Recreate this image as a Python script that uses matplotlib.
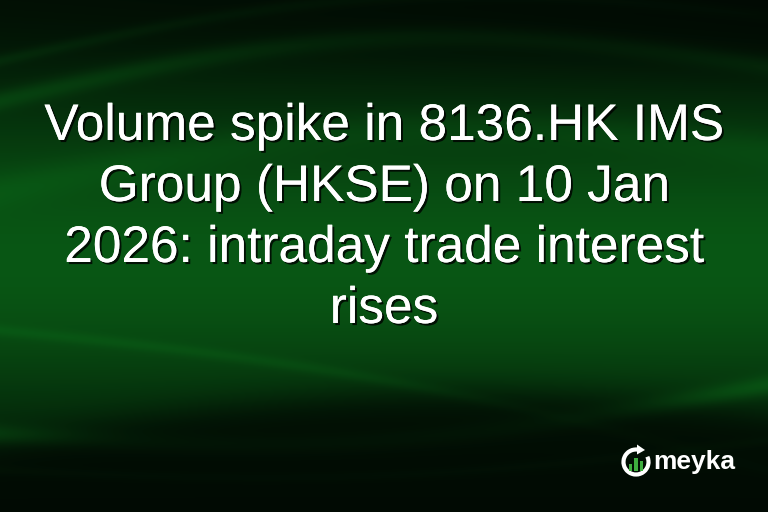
import numpy as np
import matplotlib
matplotlib.use('Agg')
import matplotlib.pyplot as plt
from matplotlib.patches import Arc, Rectangle, Polygon
import matplotlib.patheffects as pe

# ---- content ----
TITLE_LINES = [
    "Volume spike in 8136.HK IMS",
    "Group (HKSE) on 10 Jan",
    "2026: intraday trade interest",
    "rises",
]
LINE_BASELINES = [140, 201, 262, 323]   # px from top
BRAND = "meyka"
LOGO_BARS = [7, 13, 10]                 # bar heights in the logo icon

# ---- background light streaks: (y at left, y at right, bow, width, strength) ----
WAVES = [
    (435, 385, 30, 10, 0.35),
    (470, 440, 20, 5, 0.2),
    (330, 470, -20, 6, 0.15),
    (100, 65, -45, 10, 0.3),
    (60, 15, -40, 6, 0.2),
    (190, 150, -40, 18, 0.15),
]

W, H = 768, 512

# base gradient
yy, xx = np.mgrid[0:H, 0:W].astype(float)
t = xx / W
v = np.exp(-((yy - 260) / 170) ** 2)
lum = 0.08 + 0.92 * v
for y0, y1, bow, wid, s in WAVES:
    yc = y0 + (y1 - y0) * t + bow * np.sin(np.pi * t)
    lum += s * np.exp(-((yy - yc) / wid) ** 2)

# dark lower swell
yb = 445 - 170 * t + 140 * t ** 2
lum *= 1 - 0.8 / (1 + np.exp(-(yy - yb) / 10))
# dark upper band, stronger towards the right
yt = 45 + 20 * t
lum *= 1 - (0.4 + 0.45 * t) / (1 + np.exp((yy - yt) / 18))
lum = np.clip(lum, 0, 1.3)

img = np.zeros((H, W, 3))
img[..., 0] = 0.005 + 0.03 * lum
img[..., 1] = 0.03 + 0.31 * lum
img[..., 2] = 0.01 + 0.07 * lum
img = np.clip(img, 0, 1)

fig = plt.figure(figsize=(7.68, 5.12), dpi=100)
ax = fig.add_axes([0, 0, 1, 1])
ax.imshow(img, extent=(0, W, H, 0), aspect='auto')
ax.set_xlim(0, W)
ax.set_ylim(H, 0)
ax.axis('off')

shadow = [pe.withSimplePatchShadow(offset=(1.5, -1.5), shadow_rgbFace='black', alpha=0.8), pe.Normal()]
for line, yb_ in zip(TITLE_LINES, LINE_BASELINES):
    ax.text(384, yb_, line, ha='center', va='baseline', color='white',
            fontsize=37, family='Liberation Sans', path_effects=shadow)

# logo icon (y axis is inverted, so visual angle a -> data angle -a)
cx, cy, r = 636, 462, 12.5
ax.add_patch(Arc((cx, cy), 2 * r, 2 * r, theta1=-25, theta2=280, color='white', lw=3))
ax.add_patch(Polygon([[cx + 1, cy - r - 5], [cx + 9, cy - r + 0.5], [cx + 1, cy - r + 5]],
                     closed=True, color='white', lw=0))
bx = cx - 7.5
for i, bh in enumerate(LOGO_BARS):
    ax.add_patch(Rectangle((bx + i * 5.5, cy + 9 - bh), 3.8, bh, facecolor='#3fae3f', lw=0))
ax.text(653, 469, BRAND, ha='left', va='baseline', color='white', fontsize=19,
        family='Liberation Sans', fontweight='bold')

fig.savefig('out.png', dpi=100)
